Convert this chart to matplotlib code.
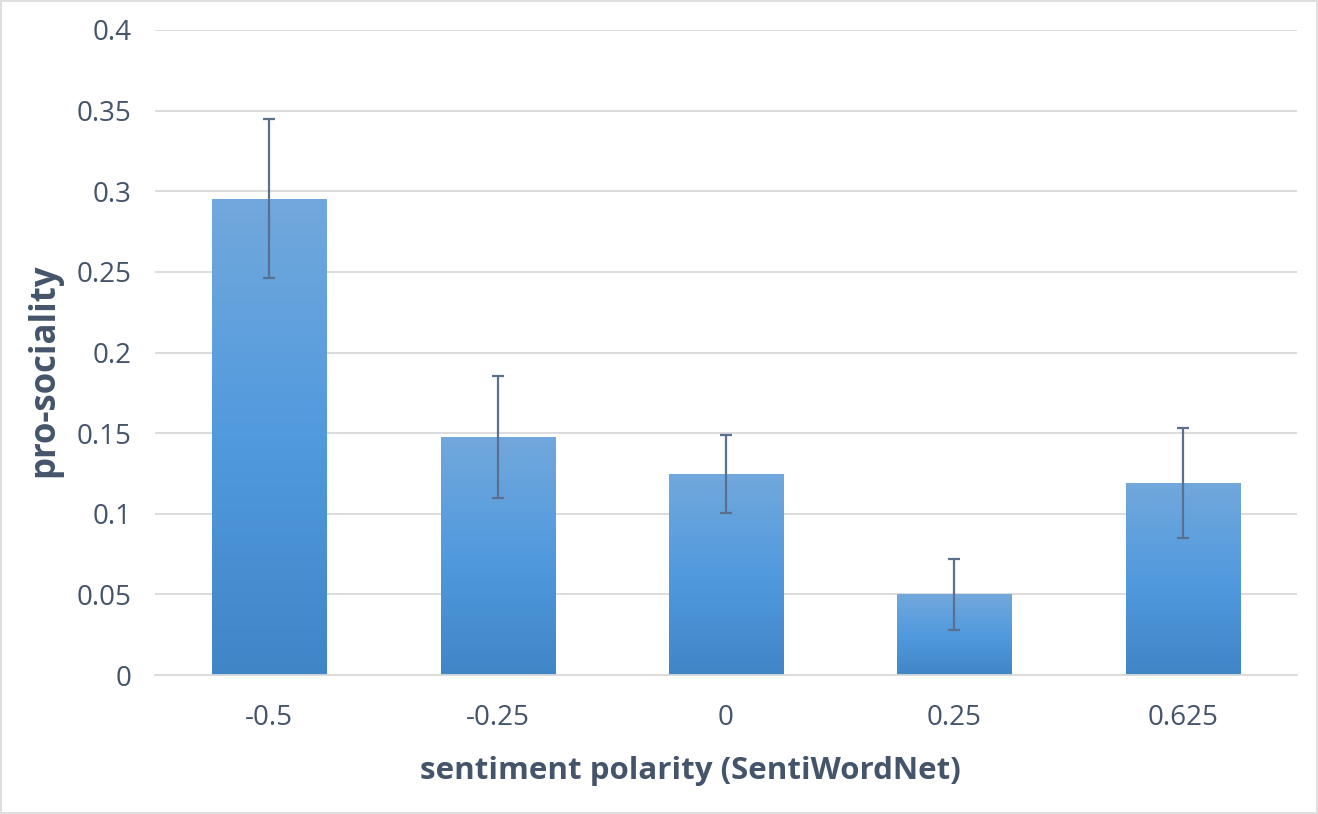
import matplotlib
matplotlib.use("Agg")
import matplotlib.pyplot as plt
import numpy as np
from matplotlib.colors import LinearSegmentedColormap
from matplotlib.patches import Rectangle

# bar values
categories = ["-0.5", "-0.25", "0", "0.25", "0.625"]
prosociality = [0.2955, 0.1476, 0.1247, 0.0502, 0.1192]
err = [0.049, 0.038, 0.024, 0.022, 0.034]
yticks = [0, 0.05, 0.1, 0.15, 0.2, 0.25, 0.3, 0.35, 0.4]
ytick_labels = ["0", "0.05", "0.1", "0.15", "0.2", "0.25", "0.3", "0.35", "0.4"]

text_col = "#44546a"
grid_col = "#d9d9d9"

plt.rcParams['font.family'] = ['Open Sans', 'DejaVu Sans']

fig = plt.figure(figsize=(13.18, 8.14), dpi=100)
ax = fig.add_axes([155/1318, 1 - 675/814, 1142/1318, 645/814])

# excel-ish vertical gradient, light on top
grad = LinearSegmentedColormap.from_list(
    "bar", ["#3f86c7", "#519ade", "#72a8dc"])
gimg = np.linspace(0, 1, 256).reshape(-1, 1)

x = np.arange(len(categories))
width = 0.5
bars = ax.bar(x, prosociality, width, color="none", edgecolor="none", zorder=2)
for b in bars:
    x0, y0 = b.get_x(), b.get_y()
    w, h = b.get_width(), b.get_height()
    im = ax.imshow(gimg, cmap=grad, origin="lower", aspect="auto",
                   extent=[x0, x0 + w, y0, y0 + h], zorder=2)
    clip = Rectangle((x0, y0), w, h, transform=ax.transData)
    im.set_clip_path(clip)

ax.errorbar(x, prosociality, yerr=err, fmt="none", ecolor="#5b6f8e",
            elinewidth=1.6, capsize=4.5, capthick=1.6, zorder=3)

ax.set_xlim(-0.5, len(categories) - 0.5)
ax.set_ylim(0, 0.4)
ax.set_yticks(yticks)
ax.set_yticklabels(ytick_labels)
ax.set_xticks(x)
ax.set_xticklabels(categories)
ax.tick_params(length=0, labelsize=20, labelcolor=text_col)
ax.tick_params(axis="y", pad=17)
ax.tick_params(axis="x", pad=21)
ax.yaxis.grid(True, color=grid_col, linewidth=1.3, zorder=0)
ax.set_axisbelow(True)
for s in ["top", "right", "left"]:
    ax.spines[s].set_visible(False)
ax.spines["bottom"].set_color(grid_col)
ax.spines["bottom"].set_linewidth(1.3)

ax.set_xlabel("sentiment polarity (SentiWordNet)", fontsize=22.5,
              fontweight="bold", color=text_col)
ax.xaxis.set_label_coords(0.469, -0.1256)
ax.set_ylabel("pro-sociality", fontsize=25, fontweight="bold", color=text_col)
ax.yaxis.set_label_coords(-0.081, 0.473)

# thin frame round the whole chart
fig.patches.append(Rectangle((0.001, 0.001), 0.998, 0.998, transform=fig.transFigure,
                             fill=False, edgecolor="#d9d9d9", linewidth=1.2))

fig.savefig("out.png", dpi=100)
